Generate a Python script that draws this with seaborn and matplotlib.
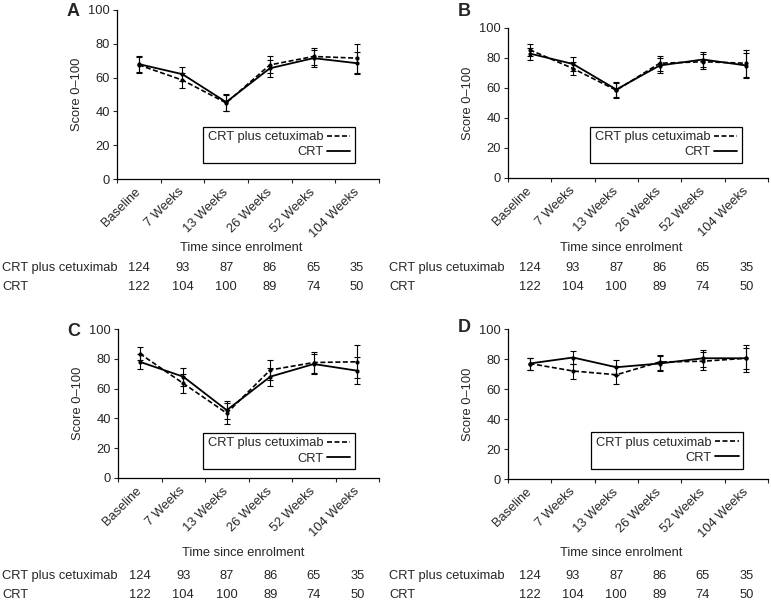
import numpy as np
import pandas as pd
import matplotlib
matplotlib.use("Agg")
import matplotlib.pyplot as plt
import matplotlib.transforms as mtransforms
import seaborn as sns

sns.set_style("white")
plt.rcParams['font.family'] = ['Liberation Sans', 'DejaVu Sans']

weeks = ["Baseline", "7 Weeks", "13 Weeks", "26 Weeks", "52 Weeks", "104 Weeks"]
n_cetux = [124, 93, 87, 86, 65, 35]
n_crt = [122, 104, 100, 89, 74, 50]

# panel A
a_crt = [68, 62, 45.5, 65.5, 71.5, 68.5]
a_crt_err = [4.5, 4, 5, 5, 5, 6.5]
a_cet = [67.5, 58.5, 45, 67.5, 72.5, 71.5]
a_cet_err = [4.5, 4.5, 5, 5, 5, 8.5]
# panel B
b_crt = [83, 76, 59, 75, 79, 75]
b_crt_err = [4, 4.5, 5, 5, 5, 8.5]
b_cet = [85.5, 73, 58.5, 76.5, 77.5, 76.5]
b_cet_err = [4, 4.5, 5, 5, 5, 9]
# panel C
c_crt = [78, 68, 45.5, 68, 76.5, 72]
c_crt_err = [5, 6, 6, 6, 6.5, 9]
c_cet = [83.5, 63.5, 43.5, 72.5, 77.5, 78]
c_cet_err = [4.5, 6.5, 7, 6.5, 7, 11]
# panel D
d_crt = [77, 81, 74.5, 77, 80.5, 80.5]
d_crt_err = [4, 4.5, 5, 5, 5.5, 7]
d_cet = [77, 72, 69.5, 78, 78.5, 80.5]
d_cet_err = [4, 5, 6, 5, 6, 9]

W, H = 771, 603
fig = plt.figure(figsize=(W / 100, H / 100), dpi=100)

# (letter, crt, crt_err, cet, cet_err, axes px [left, bottom, right, top], legend anchor, letter pos, xlabel x, table y, row label x)
panels = [
    ("A", a_crt, a_crt_err, a_cet, a_cet_err, [117, 179, 379, 10], (0.908, 0.095), (67, 12), 241, (248, 268, 287), 2),
    ("B", b_crt, b_crt_err, b_cet, b_cet_err, [508, 178, 768, 28], (0.90, 0.10), (458, 12), 621, (248, 268, 287), 389),
    ("C", c_crt, c_crt_err, c_cet, c_cet_err, [118, 478, 379, 329], (0.908, 0.06), (67, 331), 243, (553, 576, 595), 2),
    ("D", d_crt, d_crt_err, d_cet, d_cet_err, [508, 479, 768, 329], (0.904, 0.07), (458, 327), 621, (553, 576, 595), 389),
]

fs = 9.3
x = np.arange(len(weeks))

for letter, crt, crt_e, cet, cet_e, box, anchor, lpos, xl, ty, rowx in panels:
    l, b, r, t = box
    ax = fig.add_axes([l / W, 1 - b / H, (r - l) / W, (b - t) / H])
    df = pd.DataFrame({"x": x, "crt": crt, "cet": cet})

    sns.lineplot(x="x", y="cet", data=df, ax=ax, color="black", linewidth=1.2,
                 dashes=(3, 1.5), marker="o", markersize=3, markeredgewidth=0,
                 label="CRT plus cetuximab")
    sns.lineplot(x="x", y="crt", data=df, ax=ax, color="black", linewidth=1.3,
                 marker="o", markersize=3, markeredgewidth=0, label="CRT")
    ax.errorbar(x, cet, yerr=cet_e, fmt="none", ecolor="black", elinewidth=0.8, capsize=2.5, capthick=0.8)
    ax.errorbar(x, crt, yerr=crt_e, fmt="none", ecolor="black", elinewidth=0.8, capsize=2.5, capthick=0.8)

    ax.set_xlim(-0.5, len(weeks) - 0.5)
    ax.set_ylim(0, 100)
    ax.set_yticks([0, 20, 40, 60, 80, 100])
    ax.set_xticks(x)
    ax.set_xticklabels(weeks, rotation=45, ha="right", va="center", rotation_mode="anchor", fontsize=fs)
    shift = mtransforms.ScaledTranslation(5 / 100, 0, fig.dpi_scale_trans)
    for lab in ax.get_xticklabels():
        lab.set_transform(lab.get_transform() + shift)
    ax.set_xticks(np.arange(-0.5, len(weeks)), minor=True)
    ax.tick_params(axis="x", which="major", length=0, pad=8)
    ax.tick_params(axis="x", which="minor", length=3, width=0.8, direction="out", bottom=True)
    ax.tick_params(axis="y", length=3, width=0.8, direction="out", left=True, labelsize=fs, pad=2)
    for s in ["top", "right"]:
        ax.spines[s].set_visible(False)
    for s in ["left", "bottom"]:
        ax.spines[s].set_color("black")
        ax.spines[s].set_linewidth(0.9)
    ax.set_xlabel("")
    ax.set_ylabel("Score 0\u2013100", fontsize=fs, labelpad=4)

    leg = ax.legend(loc="lower right", bbox_to_anchor=anchor, borderaxespad=0, markerfirst=False,
                    fontsize=fs, frameon=True, fancybox=False, edgecolor="black", framealpha=1,
                    handlelength=1.8, handletextpad=0.3, labelspacing=0.25, borderpad=0.35)
    leg.get_frame().set_linewidth(0.9)
    for h in leg.get_lines():
        h.set_marker("")

    fig.text(lpos[0] / W, 1 - lpos[1] / H, letter, fontsize=13, fontweight="bold", va="center")
    fig.text(xl / W, 1 - ty[0] / H, "Time since enrolment", fontsize=fs, ha="center", va="center")

    trans = mtransforms.blended_transform_factory(ax.transData, fig.transFigure)
    fig.text(rowx / W, 1 - ty[1] / H, "CRT plus cetuximab", fontsize=fs, va="center")
    fig.text(rowx / W, 1 - ty[2] / H, "CRT", fontsize=fs, va="center")
    for i in range(len(weeks)):
        ax.text(x[i], 1 - ty[1] / H, str(n_cetux[i]), transform=trans, fontsize=fs, ha="center", va="center")
        ax.text(x[i], 1 - ty[2] / H, str(n_crt[i]), transform=trans, fontsize=fs, ha="center", va="center")

fig.savefig("out.png", dpi=100)
